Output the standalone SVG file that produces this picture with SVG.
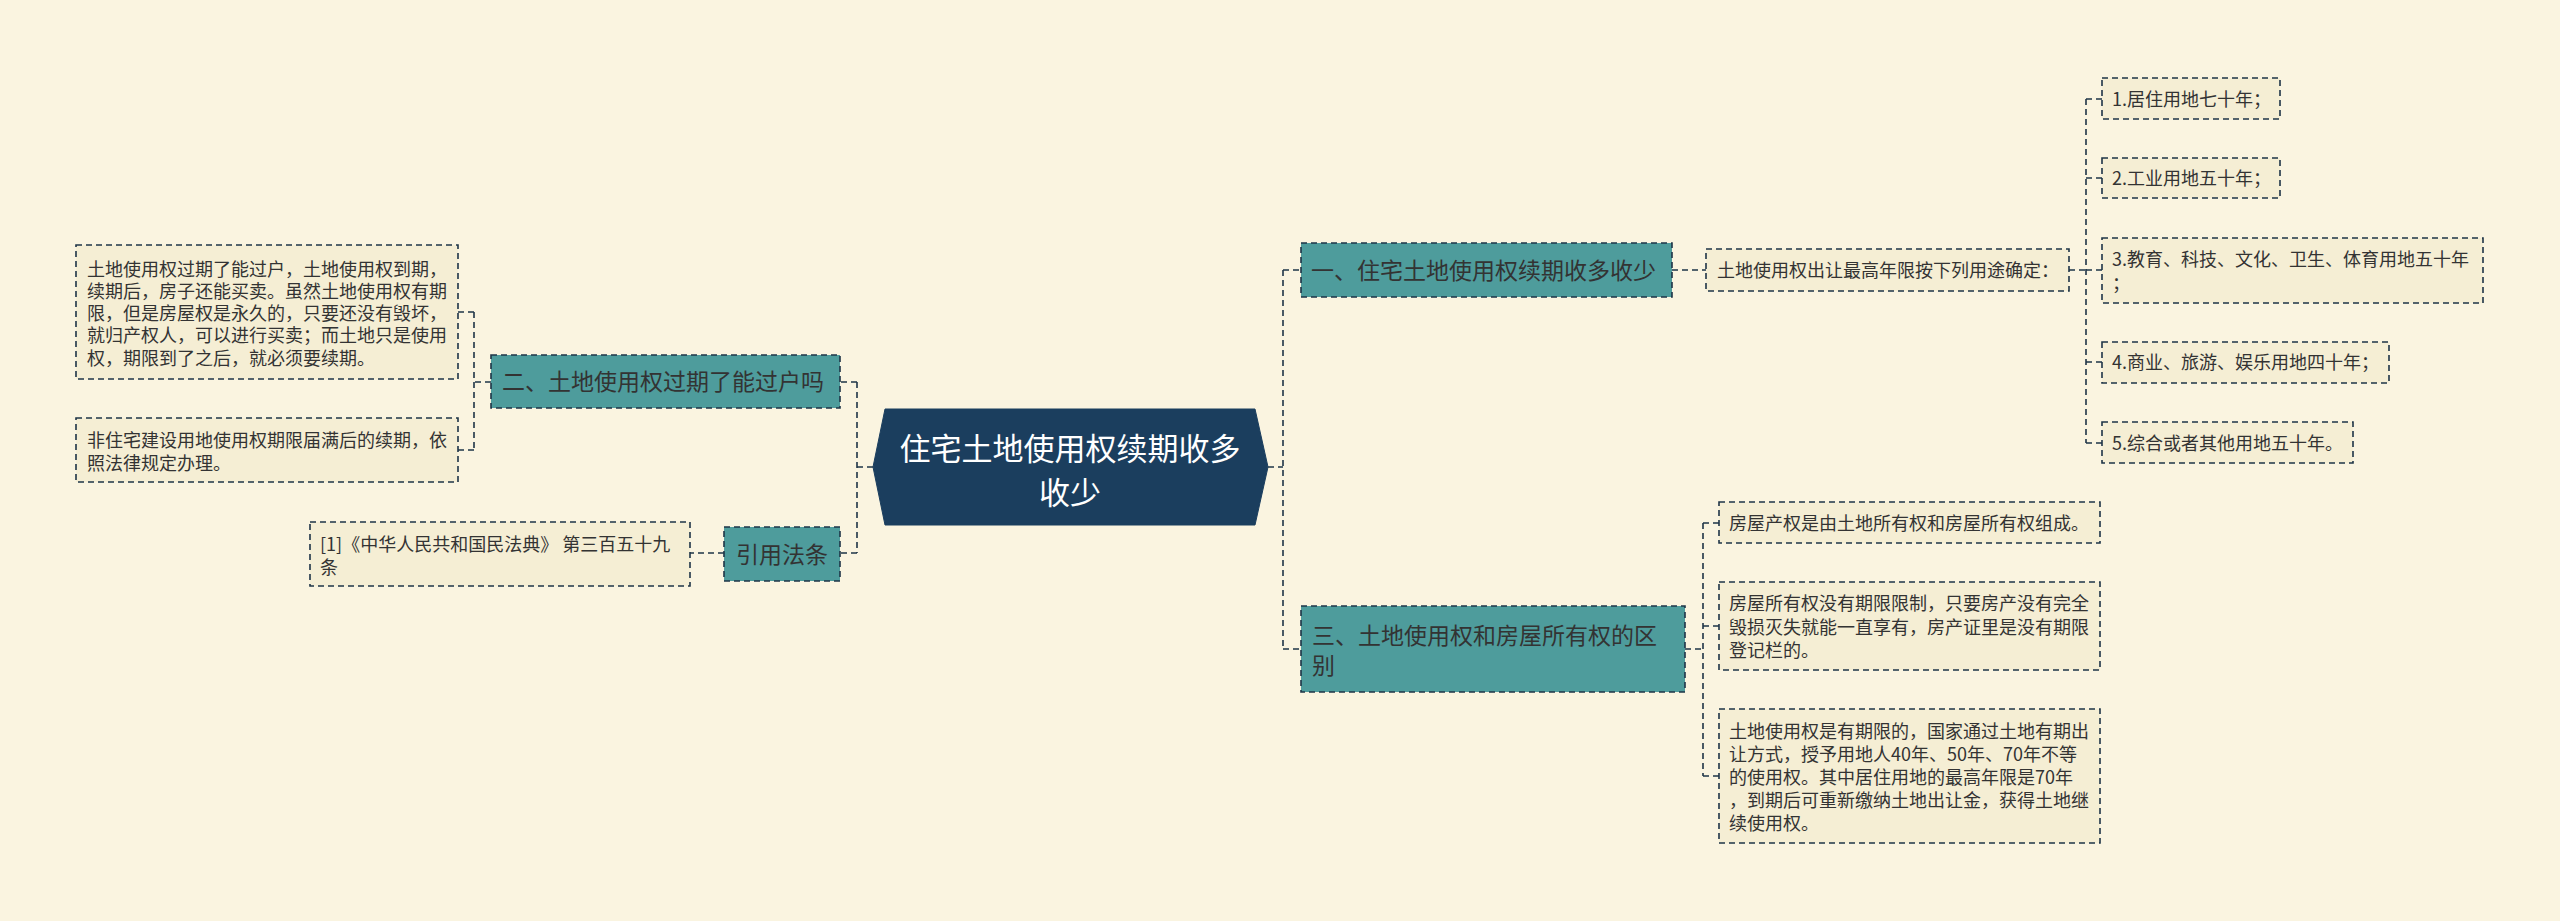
<svg xmlns="http://www.w3.org/2000/svg" width="2560" height="921" viewBox="0 0 2560 921">
<style>
.bg{fill:#faf4e0}
.leaf{fill:#f5eed4;stroke:#1e3447;stroke-width:1.6;stroke-dasharray:6,4}
.main{fill:#4e9c9c;stroke:#1e3447;stroke-width:1.6;stroke-dasharray:6,4}
.root{fill:#1b3e5e;stroke:#1b3e5e;stroke-width:1}
.conn{fill:none;stroke:#1e3447;stroke-width:1.6;stroke-dasharray:6,4}
text{font-family:"Noto Sans CJK SC","Noto Sans",sans-serif;fill:#333333}
.t18{font-size:18px}
.t23{font-size:23px}
.rt{font-size:31px;fill:#ffffff}
</style>
<rect class="bg" x="0" y="0" width="2560" height="921"/>
<g id="connectors">
<path class="conn" d="M873,467 H857 M857,382 V553 M857,382 H840 M857,553 H840"/>
<path class="conn" d="M491,382 H474 M474,312 V450 M474,312 H458 M474,450 H458"/>
<path class="conn" d="M724,553 H690"/>
<path class="conn" d="M1268,467 H1283 M1283,270 V649 M1283,270 H1301 M1283,649 H1301"/>
<path class="conn" d="M1672,270 H1706"/>
<path class="conn" d="M2069,270 H2086 M2086,99 V443 M2086,99 H2102 M2086,178 H2102 M2086,270 H2102 M2086,362 H2102 M2086,443 H2102"/>
<path class="conn" d="M1685,649 H1703 M1703,523 V776 M1703,523 H1719 M1703,626 H1719 M1703,776 H1719"/>
</g>
<g id="root">
<polygon class="root" points="885,409 1255,409 1268,467 1255,525 885,525 873,467"/>
<text class="rt" x="1070" y="460" text-anchor="middle">住宅土地使用权续期收多</text>
<text class="rt" x="1070" y="504" text-anchor="middle">收少</text>
</g>
<g id="n2">
<rect class="main" x="491" y="355" width="349" height="53"/>
<text class="t23" x="502" y="390">二、土地使用权过期了能过户吗</text>
</g>
<g id="n2a">
<rect class="leaf" x="76" y="245" width="382" height="134"/>
<text class="t18" x="87" y="276">土地使用权过期了能过户，土地使用权到期，</text>
<text class="t18" x="87" y="298">续期后，房子还能买卖。虽然土地使用权有期</text>
<text class="t18" x="87" y="320">限，但是房屋权是永久的，只要还没有毁坏，</text>
<text class="t18" x="87" y="342">就归产权人，可以进行买卖；而土地只是使用</text>
<text class="t18" x="87" y="365">权，期限到了之后，就必须要续期。</text>
</g>
<g id="n2b">
<rect class="leaf" x="76" y="418" width="382" height="64"/>
<text class="t18" x="87" y="447">非住宅建设用地使用权期限届满后的续期，依</text>
<text class="t18" x="87" y="470">照法律规定办理。</text>
</g>
<g id="ref">
<rect class="main" x="724" y="527" width="116" height="54"/>
<text class="t23" x="736" y="563">引用法条</text>
</g>
<g id="refa">
<rect class="leaf" x="310" y="522" width="380" height="64"/>
<text class="t18" x="320" y="551">[1]《中华人民共和国民法典》 第三百五十九</text>
<text class="t18" x="320" y="574">条</text>
</g>
<g id="n1">
<rect class="main" x="1301" y="243" width="371" height="54"/>
<text class="t23" x="1311" y="279">一、住宅土地使用权续期收多收少</text>
</g>
<g id="n1a">
<rect class="leaf" x="1706" y="249" width="363" height="42"/>
<text class="t18" x="1717" y="277">土地使用权出让最高年限按下列用途确定：</text>
</g>
<g id="n1a1">
<rect class="leaf" x="2102" y="78" width="178" height="41"/>
<text class="t18" x="2112" y="106">1.居住用地七十年；</text>
</g>
<g id="n1a2">
<rect class="leaf" x="2102" y="158" width="178" height="40"/>
<text class="t18" x="2112" y="185">2.工业用地五十年；</text>
</g>
<g id="n1a3">
<rect class="leaf" x="2102" y="238" width="381" height="65"/>
<text class="t18" x="2112" y="266">3.教育、科技、文化、卫生、体育用地五十年</text>
<text class="t18" x="2112" y="290">；</text>
</g>
<g id="n1a4">
<rect class="leaf" x="2102" y="342" width="287" height="41"/>
<text class="t18" x="2112" y="369">4.商业、旅游、娱乐用地四十年；</text>
</g>
<g id="n1a5">
<rect class="leaf" x="2102" y="422" width="251" height="41"/>
<text class="t18" x="2112" y="450">5.综合或者其他用地五十年。</text>
</g>
<g id="n3">
<rect class="main" x="1301" y="606" width="384" height="86"/>
<text class="t23" x="1312" y="644">三、土地使用权和房屋所有权的区</text>
<text class="t23" x="1312" y="674">别</text>
</g>
<g id="n3a">
<rect class="leaf" x="1719" y="502" width="381" height="41"/>
<text class="t18" x="1729" y="530">房屋产权是由土地所有权和房屋所有权组成。</text>
</g>
<g id="n3b">
<rect class="leaf" x="1719" y="582" width="381" height="88"/>
<text class="t18" x="1729" y="610">房屋所有权没有期限限制，只要房产没有完全</text>
<text class="t18" x="1729" y="634">毁损灭失就能一直享有，房产证里是没有期限</text>
<text class="t18" x="1729" y="657">登记栏的。</text>
</g>
<g id="n3c">
<rect class="leaf" x="1719" y="709" width="381" height="134"/>
<text class="t18" x="1729" y="738">土地使用权是有期限的，国家通过土地有期出</text>
<text class="t18" x="1729" y="761">让方式，授予用地人40年、50年、70年不等</text>
<text class="t18" x="1729" y="784">的使用权。其中居住用地的最高年限是70年</text>
<text class="t18" x="1729" y="807">，到期后可重新缴纳土地出让金，获得土地继</text>
<text class="t18" x="1729" y="830">续使用权。</text>
</g>
</svg>
